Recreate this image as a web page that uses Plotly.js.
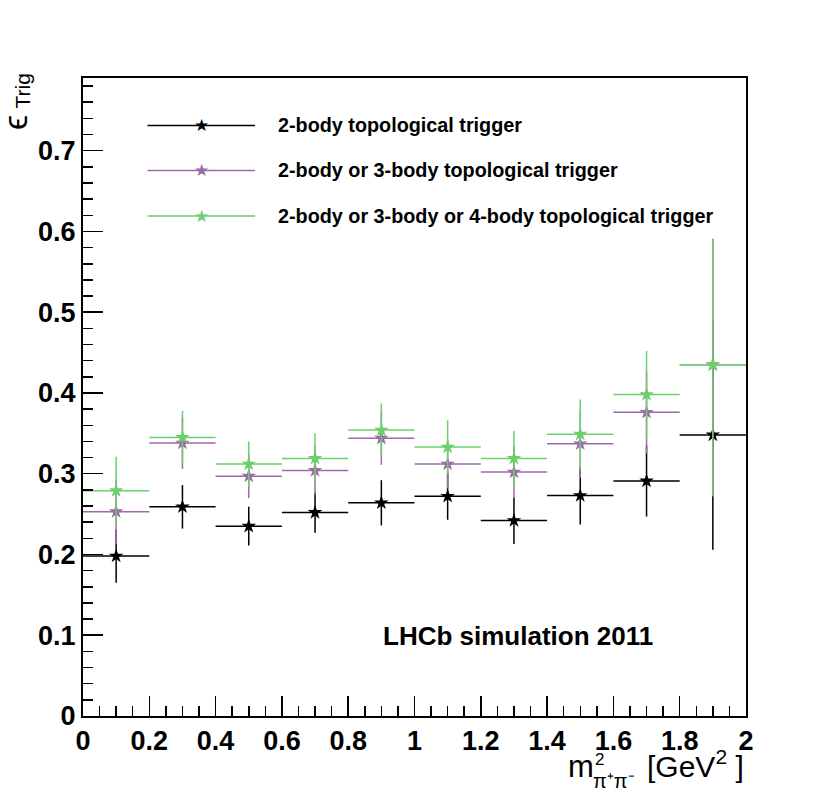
<!DOCTYPE html>
<html>
<head>
<meta charset="utf-8">
<script src="https://cdn.plot.ly/plotly-3.0.1.min.js"></script>
<style>html,body{margin:0;padding:0;background:#fff;}</style>
</head>
<body>
<div id="chart" style="width:830px;height:794px;"></div>
<script>
// ---- data ----
var binCenters   = [0.1, 0.3, 0.5, 0.7, 0.9, 1.1, 1.3, 1.5, 1.7, 1.9];
var binHalfWidth = [0.1, 0.1, 0.1, 0.1, 0.1, 0.1, 0.1, 0.1, 0.1, 0.1];

var eff2body      = [0.198, 0.259, 0.235, 0.252, 0.264, 0.272, 0.242, 0.273, 0.291, 0.348];
var err2bodyUp    = [0.033, 0.027, 0.024, 0.025, 0.028, 0.029, 0.029, 0.036, 0.044, 0.142];
var err2bodyDown  = [0.033, 0.027, 0.024, 0.025, 0.028, 0.029, 0.029, 0.036, 0.044, 0.142];

var eff23body     = [0.253, 0.338, 0.297, 0.304, 0.344, 0.312, 0.302, 0.337, 0.376, 0.435];
var err23bodyUp   = [0.040, 0.032, 0.027, 0.030, 0.033, 0.030, 0.032, 0.042, 0.051, 0.156];
var err23bodyDown = [0.040, 0.032, 0.027, 0.030, 0.033, 0.030, 0.032, 0.042, 0.051, 0.163];

var eff234body     = [0.279, 0.345, 0.312, 0.319, 0.354, 0.333, 0.319, 0.349, 0.398, 0.435];
var err234bodyUp   = [0.042, 0.033, 0.028, 0.031, 0.033, 0.033, 0.034, 0.043, 0.054, 0.156];
var err234bodyDown = [0.042, 0.033, 0.028, 0.031, 0.033, 0.033, 0.034, 0.043, 0.054, 0.163];

var legendLabels = [
  "2-body topological trigger",
  "2-body or 3-body topological trigger",
  "2-body or 3-body or 4-body topological trigger"
];
var xTickVals = [0, 0.2, 0.4, 0.6, 0.8, 1, 1.2, 1.4, 1.6, 1.8, 2];
var yTickVals = [0, 0.1, 0.2, 0.3, 0.4, 0.5, 0.6, 0.7];

// ---- styles ----
var colors = ["#000000", "#9d6aa8", "#6ccf6c"];
var FONT = "Liberation Sans, Arial, Helvetica, sans-serif";

// pixel -> paper helpers (plot area: x 83..746, y 78..716)
function px(x) { return (x - 83) / 663; }
function py(y) { return (716 - y) / 638; }

function series(y, up, down, color) {
  return {
    type: "scatter", mode: "markers",
    x: binCenters, y: y,
    marker: {symbol: "star", size: 11, color: color, line: {width: 0}},
    error_x: {type: "data", array: binHalfWidth, symmetric: true, width: 0, thickness: 1.5, color: color},
    error_y: {type: "data", array: up, arrayminus: down, symmetric: false, width: 0, thickness: 1.5, color: color},
    showlegend: false, hoverinfo: "x+y"
  };
}

var traces = [
  series(eff2body, err2bodyUp, err2bodyDown, colors[0]),
  series(eff23body, err23bodyUp, err23bodyDown, colors[1]),
  series(eff234body, err234bodyUp, err234bodyDown, colors[2])
];

// ---- custom legend (ROOT style) ----
var legRowPx = [125.5, 170.5, 216];
var shapes = [];
var annotations = [];
function ann(o) { o.xref = "paper"; o.yref = "paper"; o.showarrow = false; annotations.push(o); }

for (var i = 0; i < legendLabels.length; i++) {
  shapes.push({type: "line", xref: "paper", yref: "paper",
    x0: px(147.5), x1: px(255), y0: py(legRowPx[i]), y1: py(legRowPx[i]),
    line: {color: colors[i], width: 1.5}});
  ann({x: px(201), y: py(legRowPx[i] - 0.5), xanchor: "center", yanchor: "middle",
    text: "★", font: {family: "DejaVu Sans", size: 17, color: colors[i]}});
  ann({x: px(276), y: py(legRowPx[i]), xanchor: "left", yanchor: "middle",
    text: legendLabels[i], font: {family: FONT, size: 19.8, color: "#000", weight: "bold"}});
}

ann({x: px(518), y: py(636), xanchor: "center", yanchor: "middle",
  text: "LHCb simulation 2011", font: {family: FONT, size: 26, color: "#000", weight: "bold"}});

// x-axis title pieces:  m^2_{pi+pi-} [GeV^2]
ann({x: px(596), y: py(766), xanchor: "right", yanchor: "middle",
  text: "m", font: {family: FONT, size: 31, color: "#000"}});
ann({x: px(592.5), y: py(759), xanchor: "left", yanchor: "middle",
  text: "2", font: {family: FONT, size: 17, color: "#000"}});
ann({x: px(591), y: py(781), xanchor: "left", yanchor: "middle",
  text: "π⁺π⁻", font: {family: FONT, size: 20, color: "#000"}});
ann({x: px(746), y: py(764), xanchor: "right", yanchor: "middle",
  text: "[GeV<sup>2</sup> ]", font: {family: FONT, size: 30, color: "#000"}});

// y-axis title: epsilon_Trig (rotated)
ann({x: px(15), y: py(123), xanchor: "center", yanchor: "middle", textangle: -90,
  text: "ϵ", font: {family: FONT, size: 34, color: "#000"}});
ann({x: px(21.5), y: py(91), xanchor: "center", yanchor: "middle", textangle: -90,
  text: "Trig", font: {family: FONT, size: 21, color: "#000"}});

var axisCommon = {
  showline: true, linecolor: "#000", linewidth: 2, mirror: true,
  ticks: "inside", tickcolor: "#000", tickwidth: 1.5, ticklen: 20,
  showgrid: false, zeroline: false
};

var layout = {
  width: 830, height: 794,
  margin: {l: 83, r: 84, t: 78, b: 78},
  paper_bgcolor: "#fff", plot_bgcolor: "#fff",
  showlegend: false,
  xaxis: Object.assign({}, axisCommon, {
    range: [0, 2], tickvals: xTickVals,
    tickfont: {family: FONT, size: 27, color: "#000", weight: "bold"},
    minor: {dtick: 0.05, ticklen: 10, tickwidth: 1.5, tickcolor: "#000", ticks: "inside", showgrid: false}
  }),
  yaxis: Object.assign({}, axisCommon, {
    range: [0, 0.79], tickvals: yTickVals,
    tickfont: {family: FONT, size: 27, color: "#000", weight: "bold"},
    minor: {dtick: 0.02, ticklen: 10, tickwidth: 1.5, tickcolor: "#000", ticks: "inside", showgrid: false}
  }),
  shapes: shapes,
  annotations: annotations
};

Plotly.newPlot("chart", traces, layout, {displayModeBar: false, staticPlot: true});
</script>
</body>
</html>
